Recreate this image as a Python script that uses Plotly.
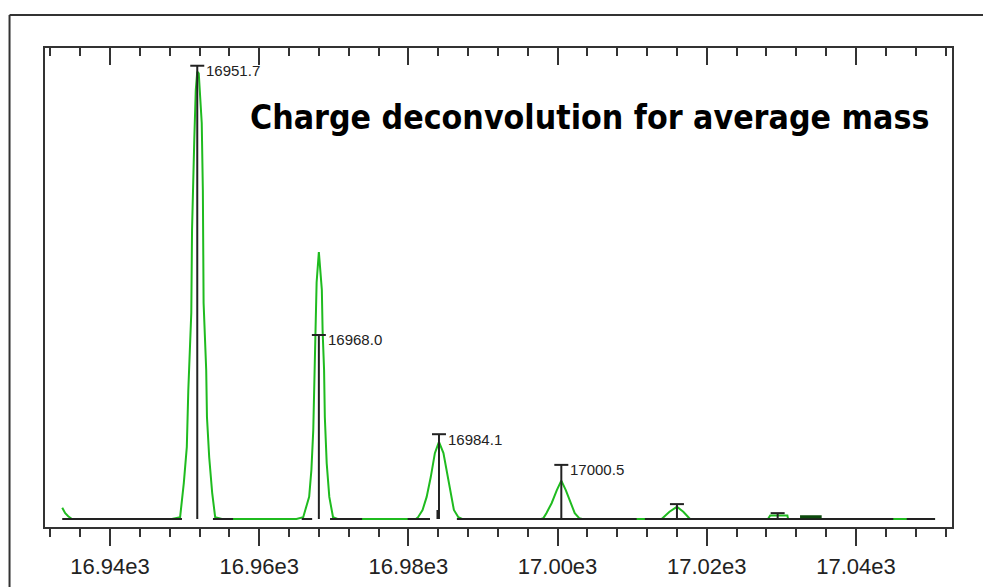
import plotly.graph_objects as go

# ---- data ----
profile_mass = [
    16933.6, 16934.0, 16934.4, 16934.9,
    16948.3, 16949.4, 16949.9, 16950.3, 16950.5, 16950.9, 16951.0, 16951.1, 16951.3, 16951.5,
    16951.7, 16951.9, 16952.2, 16952.3, 16952.45, 16952.55, 16952.9, 16953.0, 16953.3, 16953.7,
    16954.1, 16955.0,
    16965.0, 16965.9, 16966.7, 16967.0, 16967.25, 16967.4, 16967.55, 16967.7, 16968.0, 16968.4,
    16968.5, 16968.7, 16968.8, 16969.05, 16969.4, 16969.9, 16970.5,
    16981.0, 16981.3, 16981.9, 16982.45, 16983.0, 16983.55, 16984.1, 16984.7, 16985.3, 16985.7,
    16986.1, 16986.7, 16987.2,
    16997.8, 16998.1, 16998.5, 16999.2, 16999.9, 17000.5, 17001.1, 17001.8, 17002.3, 17002.9,
    17003.3,
    17013.95, 17015.0, 17016.0, 17016.85, 17017.75,
    17028.2, 17028.5, 17030.8, 17030.9,
    17050.6,
]
profile_intensity = [
    2.5, 1.3, 0.6, 0.0,
    0.0, 0.4, 8.0, 16.0, 28.6, 45.7, 64.1, 72.9, 84.0, 95.1,
    99.2, 98.8, 90.7, 87.8, 72.9, 47.9, 33.0, 22.6, 13.7, 5.8,
    0.4, 0.0,
    0.0, 0.4, 4.9, 10.9, 19.7, 30.8, 41.9, 52.5, 59.2, 50.8,
    41.9, 33.0, 22.6, 12.4, 4.9, 0.4, 0.0,
    0.0, 0.4, 2.0, 4.9, 9.3, 14.6, 17.1, 14.6, 9.3, 4.9,
    2.0, 0.4, 0.0,
    0.0, 0.2, 1.3, 3.5, 6.4, 8.5, 6.4, 3.5, 1.3, 0.2,
    0.0,
    0.0, 1.6, 2.7, 1.6, 0.0,
    0.0, 0.8, 0.8, 0.0,
    0.0,
]

stick_mass = [16951.7, 16968.0, 16984.1, 17000.5, 17016.0, 17029.5]
stick_height = [100.5, 40.8, 18.8, 12.0, 3.3, 1.3]
stick_labels = ["16951.7", "16968.0", "16984.1", "17000.5", "", ""]

minor_stick_mass = [16983.9]
minor_stick_height = [2.0]

baseline_start = [16933.6, 16953.8, 16965.7, 16969.5, 16979.9, 16986.5, 17011.7, 17046.8]
baseline_end = [16949.65, 16956.5, 16967.1, 16973.8, 16982.9, 17010.6, 17045.0, 17050.6]

flat_bar_mass = [17032.5, 17035.4]
flat_bar_level = [0.5, 0.5]

tick_vals = [16940, 16960, 16980, 17000, 17020, 17040]
tick_text = ["16.94e3", "16.96e3", "16.98e3", "17.00e3", "17.02e3", "17.04e3"]

title_text = "Charge deconvolution for average mass"

x_range = [16931.29, 17052.87]
y_range = [-1.774, 104.43]

GREEN = "#1fbb1f"
INK = "#222222"
AXIS = "#333333"

fig = go.Figure()

# green profile spectrum
fig.add_trace(go.Scatter(x=profile_mass, y=profile_intensity, mode="lines",
                         line=dict(color=GREEN, width=2), hoverinfo="skip", showlegend=False))

# black baseline segments
bx, by = [], []
for a, b in zip(baseline_start, baseline_end):
    bx += [a, b, None]
    by += [0, 0, None]
fig.add_trace(go.Scatter(x=bx, y=by, mode="lines", line=dict(color=INK, width=2),
                         hoverinfo="skip", showlegend=False))

# flat dark bar
fig.add_trace(go.Scatter(x=flat_bar_mass, y=flat_bar_level, mode="lines",
                         line=dict(color="#0c4a0c", width=3), hoverinfo="skip", showlegend=False))

# sticks
sx, sy = [], []
for m, h in zip(stick_mass + minor_stick_mass, stick_height + minor_stick_height):
    sx += [m, m, None]
    sy += [0, h, None]
fig.add_trace(go.Scatter(x=sx, y=sy, mode="lines", line=dict(color=INK, width=2),
                         hoverinfo="skip", showlegend=False))

# T caps
fig.add_trace(go.Scatter(x=stick_mass, y=stick_height, mode="markers",
                         marker=dict(symbol="line-ew", size=10, line=dict(color=INK, width=2)),
                         hoverinfo="skip", showlegend=False))

# invisible trace to carry the top axis
fig.add_trace(go.Scatter(x=[tick_vals[0]], y=[0], xaxis="x2", mode="markers",
                         marker=dict(opacity=0), hoverinfo="skip", showlegend=False))

for m, h, t in zip(stick_mass, stick_height, stick_labels):
    if t:
        fig.add_annotation(x=m, y=h, text=t, showarrow=False, xanchor="left", yanchor="middle",
                           xshift=7, yshift=-5,
                           font=dict(family="Liberation Sans, Arial, sans-serif", size=15, color=INK))

fig.add_annotation(xref="paper", yref="paper", x=0.2238, y=0.854, text="<b>" + title_text + "</b>",
                   showarrow=False, xanchor="left", yanchor="middle",
                   font=dict(family="DejaVu Sans Condensed, Liberation Sans Narrow, sans-serif",
                             size=33.6, color="#000000"))

# outer frame lines (partial, as in the reference)
fig.add_shape(type="line", xref="paper", yref="paper", x0=-0.0391, x1=-0.0391, y0=1.0689, y1=-0.2,
              line=dict(color=AXIS, width=2))
fig.add_shape(type="line", xref="paper", yref="paper", x0=-0.0391, x1=1.05, y0=1.0689, y1=1.0689,
              line=dict(color=AXIS, width=2))

fig.update_layout(
    width=983, height=587,
    margin=dict(l=45, r=31, t=48, b=60, autoexpand=False),
    paper_bgcolor="white", plot_bgcolor="white",
    showlegend=False,
    xaxis=dict(range=x_range, tickmode="array", tickvals=tick_vals, ticktext=tick_text,
               ticks="outside", ticklen=17, tickwidth=2, tickcolor=AXIS,
               minor=dict(tickmode="linear", tick0=16940, dtick=4, ticks="outside",
                          ticklen=8, tickwidth=2, tickcolor=AXIS),
               showline=True, linecolor=AXIS, linewidth=2, mirror=True, automargin=False,
               showgrid=False, zeroline=False, ticklabelstandoff=2,
               tickfont=dict(family="Liberation Sans, Arial, sans-serif", size=22, color="#222222")),
    xaxis2=dict(range=x_range, overlaying="x", side="top", anchor="y", automargin=False,
                tickmode="array", tickvals=tick_vals, showticklabels=False,
                ticks="inside", ticklen=17, tickwidth=2, tickcolor=AXIS,
                minor=dict(tickmode="linear", tick0=16940, dtick=4, ticks="inside",
                           ticklen=8, tickwidth=2, tickcolor=AXIS),
                showline=False, showgrid=False, zeroline=False),
    yaxis=dict(range=y_range, showline=True, linecolor=AXIS, linewidth=2, mirror=True,
               automargin=False,
               ticks="", showticklabels=False, showgrid=False, zeroline=False),
)

fig.write_html("out.html")
